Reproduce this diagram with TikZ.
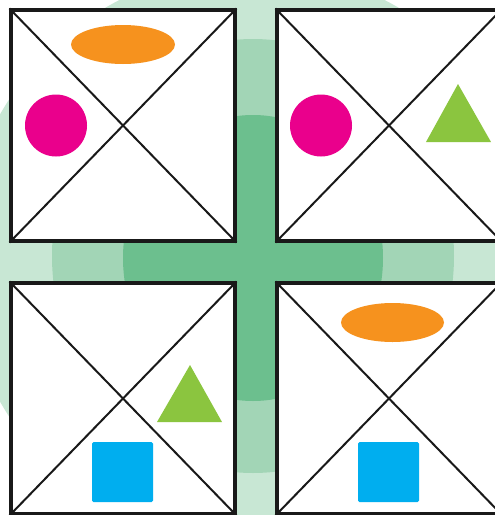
\documentclass[tikz,border=0pt]{standalone}
\usepackage{tikz}
\usetikzlibrary{positioning}

\definecolor{paleleaf}{RGB}{200,231,212}
\definecolor{midleaf}{RGB}{162,213,182}
\definecolor{deepleaf}{RGB}{108,191,142}
\definecolor{tileorange}{RGB}{246,146,30}
\definecolor{tilemagenta}{RGB}{234,0,140}
\definecolor{tilegreen}{RGB}{139,197,63}
\definecolor{tileblue}{RGB}{0,174,239}

\begin{document}
\begin{tikzpicture}[x=1pt, y=-1pt,
  panel/.style={draw=black!90, fill=white, line width=3.2pt, inner sep=0pt,
    minimum width=224pt, minimum height=231pt},
  cross/.style={black!90, line width=2pt}]
  \useasboundingbox (0,0) rectangle (495,515);
  % green rings behind the tiles
  \fill[white] (0,0) rectangle (495,515);
  \fill[paleleaf] (252,258) circle [radius=290];
  \fill[midleaf] (253,256) ellipse [x radius=201, y radius=217];
  \fill[deepleaf] (253,258) ellipse [x radius=130, y radius=143];
  % the four tiles
  \node[panel] at (123,125.5) (tl) {};
  \node[panel] at (389,125.5) (tr) {};
  \node[panel] at (123,398.5) (bl) {};
  \node[panel] at (389,398.5) (br) {};
  \foreach \t in {tl,tr,bl,br} {
    \draw[cross] (\t.north west) -- (\t.south east);
    \draw[cross] (\t.north east) -- (\t.south west);
  }
  % top left
  \fill[tileorange] (123,44.5) ellipse [x radius=52, y radius=19.5];
  \fill[tilemagenta] (56,125.5) circle [radius=31];
  % top right
  \fill[tilemagenta] (321,125.5) circle [radius=31];
  \fill[tilegreen] (458,84) -- (491,142) -- (426,142) -- cycle;
  % bottom left
  \fill[tilegreen] (190,365) -- (222,422) -- (157,422) -- cycle;
  \fill[tileblue, rounded corners=1.5pt] (92,442) rectangle (153,502);
  % bottom right
  \fill[tileorange] (392.5,322.5) ellipse [x radius=51.5, y radius=19.5];
  \fill[tileblue, rounded corners=1.5pt] (358,442) rectangle (419,502);
\end{tikzpicture}
\end{document}
